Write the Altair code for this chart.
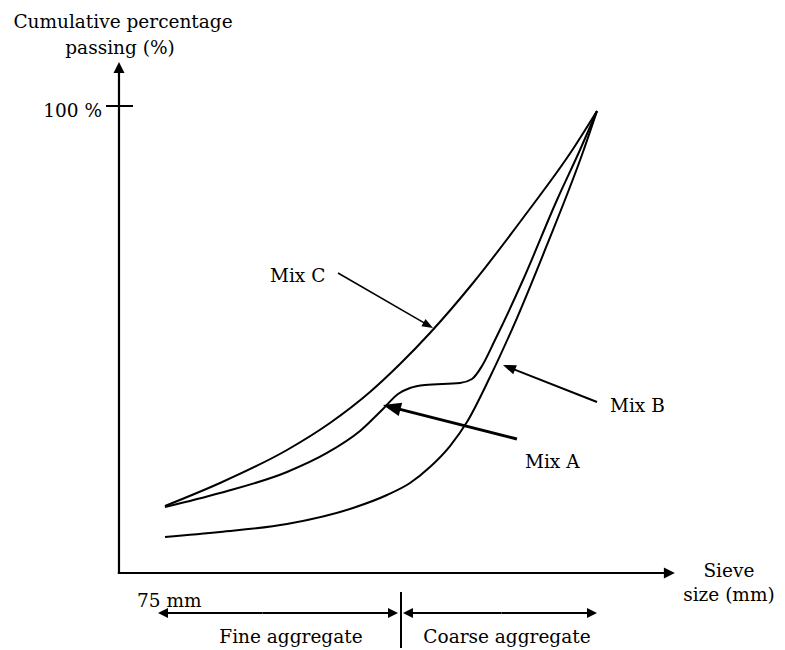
import math
import altair as alt
import pandas as pd

# ---- data: relative sieve-size position (0..100) and cumulative % passing ----
mix_c_x = [9.62, 21.13, 35.15, 44.14, 52.51, 58.79, 65.06, 74.06, 84.52, 94.98, 100.0]
mix_c_y = [14.35, 19.27, 26.34, 32.12, 38.76, 44.75, 51.39, 62.10, 76.02, 90.79, 98.93]
mix_a_x = [9.62, 21.13, 35.15, 43.51, 50.42, 55.23, 58.37, 60.88, 64.02, 71.34, 73.85, 75.94, 78.66,
           84.52, 91.63, 96.44, 100.0]
mix_a_y = [14.13, 17.13, 21.63, 25.70, 30.41, 35.12, 38.33, 39.61, 40.26, 40.69, 41.54, 44.33, 49.89,
           62.74, 79.87, 90.58, 98.93]
mix_b_x = [9.62, 21.13, 35.15, 48.95, 56.07, 60.88, 65.06, 69.25, 72.80, 77.62, 83.26, 89.54, 97.07, 100.0]
mix_b_y = [7.71, 8.78, 10.49, 13.92, 16.70, 19.27, 22.70, 27.19, 32.33, 41.97, 54.60, 70.24, 90.15, 98.93]

mix_names = ["Mix C", "Mix A", "Mix B"]
y_tick_label = "100 %"
y_title = ["Cumulative percentage", "passing (%)"]
x_title = ["Sieve", "size (mm)"]
x_start_label = "75 mm"
range_labels = ["Fine aggregate", "Coarse aggregate"]

# ---- layout ----
W, H = 769, 640
X_DOMAIN = [-23.22, 137.66]
Y_DOMAIN = [-16.06, 120.99]
SX = W / (X_DOMAIN[1] - X_DOMAIN[0])
SY = H / (Y_DOMAIN[1] - Y_DOMAIN[0])
FONT = "DejaVu Serif"
FS = 18.5

xs = alt.Scale(domain=X_DOMAIN, nice=False, zero=False)
ys = alt.Scale(domain=Y_DOMAIN, nice=False, zero=False)
X = lambda f="x": alt.X(f"{f}:Q", scale=xs, axis=None)
Y = lambda f="y": alt.Y(f"{f}:Q", scale=ys, axis=None)

# curves
rows = []
for name, xv, yv in [("Mix C", mix_c_x, mix_c_y), ("Mix A", mix_a_x, mix_a_y), ("Mix B", mix_b_x, mix_b_y)]:
    for i, (a, b) in enumerate(zip(xv, yv)):
        rows.append({"mix": name, "x": a, "y": b, "o": i})
curves = alt.Chart(pd.DataFrame(rows)).mark_line(
    interpolate="monotone", color="black", strokeWidth=2
).encode(x=X(), y=Y(), detail="mix:N", order="o:Q")

rules = []
heads = []


def arrow(x0, y0, x1, y1, w, L, kind):
    dxp = (x1 - x0) * SX
    dyp = -(y1 - y0) * SY
    d = math.hypot(dxp, dyp)
    ux, uy = dxp / d, dyp / d
    back = 0.7 * L
    ex = x1 - ux * back / SX
    ey = y1 + uy * back / SY
    rules.append({"x": x0, "y": y0, "x2": ex, "y2": ey, "w": w})
    ang = math.degrees(math.atan2(dxp, -dyp)) % 360
    heads.append({"x": x1, "y": y1, "angle": ang, "size": (2 * L) ** 2, "kind": kind})


# axes
arrow(0, 0, 0, 109.4, 2.2, 11, "wide")
arrow(-0.25, 0, 116.3, 0, 2.2, 11, "wide")
rules.append({"x": -2.72, "y": 100, "x2": 2.93, "y2": 100, "w": 2})
# range arrows under the x axis
arrow(30.0, -8.57, 8.16, -8.57, 2, 10, "wide")
arrow(30.0, -8.57, 58.37, -8.57, 2, 10, "wide")
arrow(80.0, -8.57, 59.41, -8.57, 2, 10, "wide")
arrow(80.0, -8.57, 100.0, -8.57, 2, 10, "wide")
rules.append({"x": 59.0, "y": -4.07, "x2": 59.0, "y2": -16.06, "w": 2})
# pointers to the curves
arrow(45.82, 64.24, 65.69, 52.46, 1.5, 11, "thin")
arrow(100.0, 36.62, 80.33, 44.54, 2, 13, "thin")
arrow(83.26, 28.69, 55.23, 35.97, 3, 18, "thin")

rule_layer = alt.Chart(pd.DataFrame(rules)).mark_rule(color="black").encode(
    x=X(), y=Y(), x2="x2:Q", y2="y2:Q",
    strokeWidth=alt.StrokeWidth("w:Q", scale=None),
)

hdf = pd.DataFrame(heads)
head_layers = []
for kind, path in [("wide", "M0,0L-0.5,1L0.5,1Z"), ("thin", "M0,0L-0.38,1L0.38,1Z")]:
    head_layers.append(
        alt.Chart(hdf[hdf.kind == kind]).mark_point(
            shape=path, filled=True, color="black", opacity=1, strokeWidth=0
        ).encode(
            x=X(), y=Y(),
            angle=alt.Angle("angle:Q", scale=None),
            size=alt.Size("size:Q", scale=None),
        )
    )

# text
texts_left = pd.DataFrame([
    {"t": mix_names[0], "x": 31.59, "y": 62.31},
    {"t": mix_names[1], "x": 84.94, "y": 22.48},
    {"t": mix_names[2], "x": 102.72, "y": 34.48},
    {"t": x_start_label, "x": 3.77, "y": -7.28},
])
texts_center = pd.DataFrame([
    {"t": y_title[0], "x": 0.84, "y": 116.7},
    {"t": y_title[1], "x": 0.21, "y": 111.1},
    {"t": x_title[0], "x": 127.6, "y": -0.86},
    {"t": x_title[1], "x": 127.6, "y": -6.0},
    {"t": range_labels[0], "x": 35.98, "y": -14.99},
    {"t": range_labels[1], "x": 81.17, "y": -14.99},
])
texts_right = pd.DataFrame([
    {"t": y_tick_label, "x": -3.56, "y": 97.64},
])


def text_layer(df, align):
    return alt.Chart(df).mark_text(
        align=align, baseline="alphabetic", font=FONT, fontSize=FS, color="black"
    ).encode(x=X(), y=Y(), text="t:N")


chart = alt.layer(
    curves, rule_layer, *head_layers,
    text_layer(texts_left, "left"), text_layer(texts_center, "center"), text_layer(texts_right, "right"),
).properties(
    width=W, height=H, padding=0, autosize=alt.AutoSizeParams(type="none"), background="white"
).configure_view(stroke=None)

chart.save("out.html", embed_options={"renderer": "svg", "actions": False})
